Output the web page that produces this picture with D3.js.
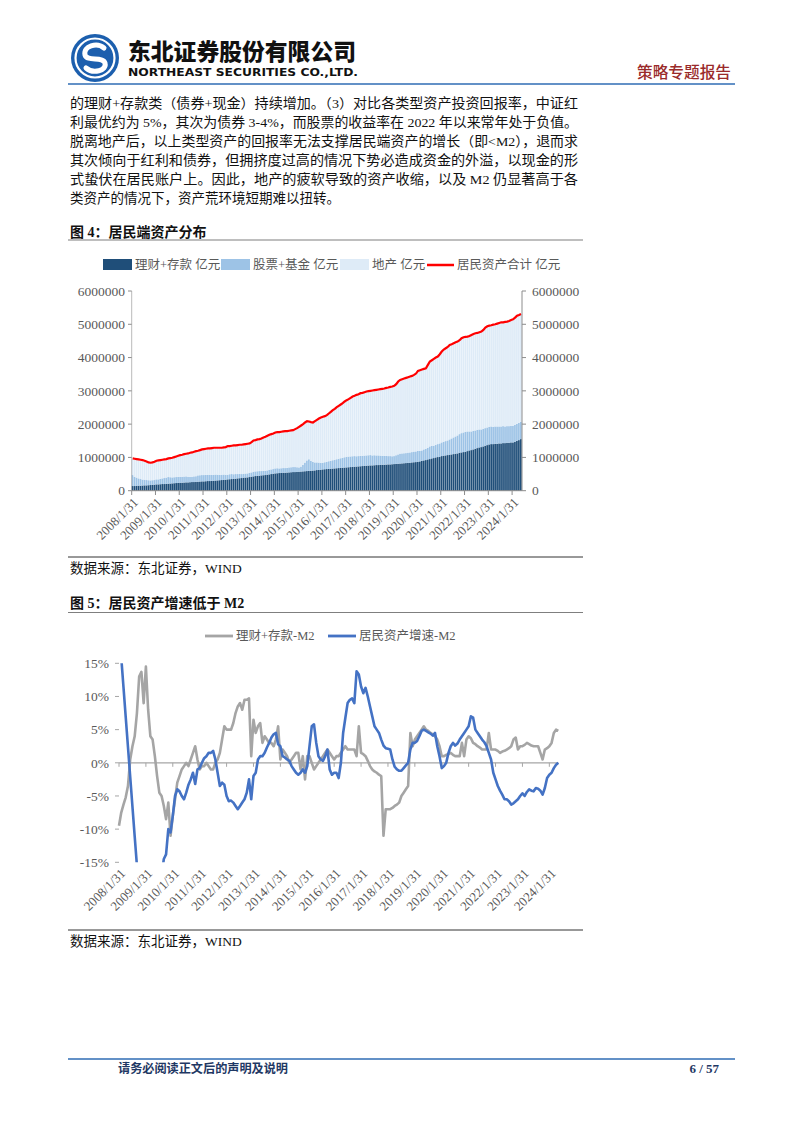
<!DOCTYPE html>
<html><head><meta charset="utf-8">
<script src="https://cdn.jsdelivr.net/npm/d3@7/dist/d3.min.js"></script>
<style>body{margin:0;background:#fff}svg{display:block}</style>
</head><body>
<svg id="page" width="802" height="1133"></svg>
<script>
// ---------------- DATA ----------------
// Figure 4: monthly, 2008/1 .. 2024/5, values in 万亿元 (x10000 = 亿元)
const startYear = 2008, nMonths = 197;
const yearTickLabels = ["2008/1/31","2009/1/31","2010/1/31","2011/1/31","2012/1/31","2013/1/31","2014/1/31","2015/1/31","2016/1/31","2017/1/31","2018/1/31","2019/1/31","2020/1/31","2021/1/31","2022/1/31","2023/1/31","2024/1/31"];
const assetTickValues = [0,1000000,2000000,3000000,4000000,5000000,6000000];
const seriesNames = ["理财+存款 亿元","股票+基金 亿元","地产 亿元","居民资产合计 亿元"];

const totalAssets = [
97,96,95,94,93,92,90,88,85,84,85,87,
90,91,92,93,94,95,97,98,99,101,103,105,
107,108,110,111,112,114,115,117,119,120,122,124,
125,126,127,127,128,129,129,129,129,129,130,131,
134,134,135,136,136,137,138,138,139,140,141,142,
146,151,152,154,155,157,160,162,165,168,170,172,
175,176,176,177,178,179,179,180,181,182,185,188,
192,196,200,205,209,208,206,205,209,213,217,220,
222,224,227,232,237,242,246,251,255,259,263,268,
272,275,279,283,285,288,290,293,294,296,298,299,
300,301,302,303,304,305,306,307,309,310,312,313,
315,320,328,333,335,337,339,341,343,345,348,352,
360,362,364,366,368,378,388,392,396,400,403,410,
418,424,428,432,438,440,443,446,448,452,458,461,
462,463,465,468,471,473,474,476,478,483,490,494,
496,497,499,500,502,504,506,506,507,508,510,513,
515,520,526,528,531];
const deposits = [
14,14,14.5,15,15,15.5,16,16,16.5,17,17.5,18,
19,19,19.5,20,20,20.5,21,21.5,22,22.5,23,23.5,
24,24,24.5,25,25,25.5,26,26,26.5,27,27.5,28,
28,28.5,29,29,29.5,30,30.5,31,31.5,32,32.5,33,
34,34.5,35,35.5,36,37,37.5,38,39,39.5,40,41,
42,43,44,44.5,45,46,46.5,47,48,49,50,51,
52,52.5,53,53.5,54,54,54.5,55,55.5,56,56,56.5,
57,57.5,58,58.5,59,59.5,60,60.5,61,62,62.5,63,
64,64.5,65,65.5,66,66.5,67,67.5,68,68.5,69,69.5,
70,70.5,71,71.5,72,72.5,73,73.5,74,74.5,75,75.5,
76,76,76.5,77,77,77.5,78,78,78.5,79,79,79.5,
80,80.5,81,81.5,82,82.5,83,83.5,84,85,85.5,86,
87,88,90,91,92,94,95,97,98,100,101,102,
104,105,106,107,108,109,110,111,112,114,115,116,
117,119,121,122,124,126,128,130,131,133,135,137,
139,140,140,141,141,142,142,143,143,144,144,145,
145,147,150,152,155];
const stocks = [
33,28,25,22,20,18,17,16,15,14,14,14,
15,15,16,17,18,19,20,19,18,18,18,18,
18,18,18,18,17,16,16,17,17,19,19,19,
19,19,19,19,18,18,18,17,16,16,16,15,
14,15,15,14,14,13,13,12,12,12,12,13,
13,14,14,14,14,13,13,13,13,14,14,14,
15,15,14,14,14,14,14,15,15,15,15,14,
13,15,20,26,32,35,30,26,24,23,22,21,
20,21,22,23,24,25,26,27,28,29,30,31,
32,32,32,32,32,31,31,31,31,31,31,31,
31,30,30,29,29,28,27,27,26,25,25,24,
24,26,28,30,30,30,30,31,31,31,32,32,
33,32,31,33,34,35,38,38,37,38,39,40,
41,42,43,44,46,48,50,52,54,56,58,59,
60,59,57,56,56,55,55,54,53,53,53,53,
53,53,52,52,52,51,51,51,50,50,50,50,
50,51,51,52,52];

// Figure 5: monthly growth gaps vs M2 (%), 2008/1 .. 2024/5
const growthTickValues = [-15,-10,-5,0,5,10,15];
const growthNames = ["理财+存款-M2","居民资产增速-M2"];
const depositMinusM2 = [
-9.5,-7.5,-6.3,-5.2,-3.5,0.5,2.5,4.0,7.5,13.0,13.7,9.0,
14.5,8.0,4.0,3.5,1.0,-2.0,-4.5,-5.0,-6.5,-8.5,-6.0,-11.0,
-8.0,-5.5,-3.0,-2.0,-1.0,-0.5,0.0,-0.5,0.5,1.5,2.5,0.5,
-1.0,-0.5,-0.5,0.0,-0.5,-1.0,-1.0,0.0,0.5,1.5,3.5,5.5,
5.0,5.0,5.0,6.0,7.5,8.5,9.0,8.0,9.5,9.5,9.7,1.0,
6.5,4.5,5.5,6.0,3.0,4.0,3.5,3.0,3.0,2.5,3.5,5.5,
0.5,2.0,1.5,1.0,0.0,0.5,1.0,1.5,1.5,-1.0,1.0,-2.5,
1.0,1.0,0.0,-1.0,-0.5,0.0,0.5,1.0,1.5,2.0,1.5,1.0,
0.5,1.0,1.0,1.5,2.0,2.5,2.0,2.0,2.0,2.0,1.0,5.5,
1.5,1.3,1.0,0.3,-0.5,-1.0,-1.3,-1.5,-1.8,-2.0,-11.0,-7.0,
-7.0,-7.0,-6.8,-6.5,-6.3,-6.0,-5.0,-4.5,-4.0,-3.5,4.5,2.5,
3.5,4.0,4.5,5.0,5.5,5.0,4.8,4.5,4.3,4.0,3.5,2.5,
1.0,1.0,1.2,1.3,1.5,1.2,1.0,1.0,1.0,3.0,1.0,3.5,
4.0,3.7,3.0,2.8,2.5,2.3,2.0,2.0,2.0,4.5,2.0,2.0,
2.0,1.8,1.5,1.7,1.8,2.0,2.2,2.5,3.5,3.8,2.0,2.5,
2.5,2.7,3.0,2.8,2.6,2.5,2.5,2.5,1.5,0.5,2.0,2.2,
2.5,3.0,4.5,5.0,4.8];
const householdMinusM2 = [
20.3,15.9,11.4,6.9,2.4,-2.1,-6.6,-11.1,-15.5,-20,-24,-27,
-29,-30,-30,-28,-26,-23,-20,-17,-14.5,-13.8,-10,-10.5,
-8,-5,-4,-4.3,-5,-5.5,-4.5,-3.3,-2.5,-1.5,-3.2,-1,
-0.8,0,0.7,1,1.5,1.5,1.8,0.5,-1.5,-3.5,-3,-3.3,
-5,-5.8,-5.7,-6,-6.5,-7,-6.5,-6,-5.5,-4.5,-2.5,-5.5,
-2,-1.5,0.5,1,1,1.5,2.3,3,3.8,4.3,4.5,2.8,
2.5,1,0.8,0.5,0.3,-0.5,-1,-1.5,-1.8,-1.5,-1,-1.5,
-0.5,2.5,5.5,5.8,3,1,0.5,0.3,1,2,-1,-1.8,
-1.5,-1.5,-2.3,0,4.5,6.8,9,9.5,9.7,9,13.8,13.3,
11.5,10.5,11.3,10,8.5,7,5.5,5,4.5,3.5,2.6,2.2,
2.1,2,0.5,-0.6,-1,-1.2,-1.2,-0.8,-0.4,0,2,3,
3,3.3,4,4.8,5,4.8,4.6,4.4,4.1,4.5,2.5,1,
-0.8,-0.5,0,1.5,2.5,3,2.6,2.9,3.5,4,4.5,5,
5.5,7,6.8,5,4.5,4,3.5,3.1,2.5,1.5,0.5,-1.5,
-2.5,-3.5,-4.2,-4.8,-5.5,-5.5,-5.8,-6.3,-6.1,-5.8,-5.5,-5,
-4.6,-5,-4.4,-4,-4.2,-4.3,-3.8,-3.9,-4.2,-4.8,-3.8,-2.3,
-1.8,-1.5,-0.8,-0.3,0];

const paragraph = [
"的理财+存款类（债券+现金）持续增加。（3）对比各类型资产投资回报率，中证红",
"利最优约为 5%，其次为债券 3-4%，而股票的收益率在 2022 年以来常年处于负值。",
"脱离地产后，以上类型资产的回报率无法支撑居民端资产的增长（即<M2），退而求",
"其次倾向于红利和债券，但拥挤度过高的情况下势必造成资金的外溢，以现金的形",
"式蛰伏在居民账户上。因此，地产的疲软导致的资产收缩，以及 M2 仍显著高于各",
"类资产的情况下，资产荒环境短期难以扭转。"];

// ---------------- DRAW ----------------
const SERIF = "'Liberation Serif','Times New Roman','Noto Sans CJK SC',serif";
const CJK = "'Noto Sans CJK SC','Liberation Serif',sans-serif";
const svg = d3.select("#page");

// Header
const logo = svg.append("g").attr("transform","translate(95,58)");
logo.append("circle").attr("r",24).attr("fill","#1c5fae");
logo.append("circle").attr("r",19.5).attr("fill","none").attr("stroke","#fff").attr("stroke-width",2.2);
logo.append("path").attr("d","M9,-10 C2,-16 -12,-12 -10,-3 C-8,4 8,-2 10,5 C12,13 -2,16 -9,10")
  .attr("fill","none").attr("stroke","#fff").attr("stroke-width",5).attr("stroke-linecap","round");
svg.append("text").attr("x",128).attr("y",60).text("东北证券股份有限公司")
  .attr("font-family",CJK).attr("font-weight",900).attr("font-size",23).attr("fill","#111")
  .attr("textLength",228).attr("lengthAdjust","spacingAndGlyphs");
svg.append("text").attr("x",128).attr("y",76).text("NORTHEAST SECURITIES CO.,LTD.")
  .attr("font-family","'DejaVu Sans',sans-serif").attr("font-weight","bold").attr("font-size",11).attr("fill","#111")
  .attr("textLength",230).attr("lengthAdjust","spacingAndGlyphs");
svg.append("text").attr("x",637).attr("y",78).text("策略专题报告")
  .attr("font-family",CJK).attr("font-size",15.5).attr("font-weight",500).attr("fill","#9a2a2a")
  .attr("textLength",94).attr("lengthAdjust","spacingAndGlyphs");
svg.append("line").attr("x1",68).attr("x2",735).attr("y1",84).attr("y2",84).attr("stroke","#2f6db5").attr("stroke-width",1.6);

// Paragraph
paragraph.forEach((t,i)=>{
  const tx = svg.append("text").attr("x",70).attr("y",108+i*19).text(t)
    .attr("font-family",SERIF).attr("font-size",13.5).attr("fill","#111");
  if(i<paragraph.length-1) tx.attr("textLength",508).attr("lengthAdjust","spacingAndGlyphs");
});

function figTitle(y, txt, lineY){
  svg.append("text").attr("x",70).attr("y",y).text(txt).attr("font-family",SERIF)
    .attr("font-weight","bold").attr("font-size",14).attr("fill","#111");
  svg.append("line").attr("x1",68).attr("x2",583).attr("y1",lineY).attr("y2",lineY).attr("stroke","#7f7f7f").attr("stroke-width",1.2);
}
function source(lineY){
  svg.append("line").attr("x1",68).attr("x2",583).attr("y1",lineY).attr("y2",lineY).attr("stroke","#333").attr("stroke-width",1);
  svg.append("text").attr("x",70).attr("y",lineY+16).text("数据来源：东北证券，WIND").attr("font-family",SERIF)
    .attr("font-size",13.5).attr("fill","#111");
}

// ---------- Figure 4 ----------
figTitle(237, "图 4：居民端资产分布", 240);
const rows = d3.range(nMonths).map(i=>({i, dep:deposits[i], stk:stocks[i], prop: totalAssets[i]-deposits[i]-stocks[i], tot: totalAssets[i]}));
const x1 = d3.scaleBand().domain(d3.range(nMonths)).range([131.7,522]).paddingInner(0).paddingOuter(0);
const y1 = d3.scaleLinear().domain([0,6000000]).range([490.7,291]);
const UNIT = 10000;
const colors1 = ["#1f4e79","#9dc3e6","#deebf7","#ff0000"];
const stack = d3.stack().keys(["dep","stk","prop"])(rows);
const g1 = svg.append("g");
stack.forEach((layer,k)=>{
  g1.append("g").selectAll("rect").data(layer).join("rect")
    .attr("x",d=>x1(d.data.i)).attr("width",x1.bandwidth()*0.86)
    .attr("y",d=>y1(d[1]*UNIT)).attr("height",d=>y1(d[0]*UNIT)-y1(d[1]*UNIT))
    .attr("fill",colors1[k]);
});
g1.append("path").datum(rows).attr("fill","none").attr("stroke",colors1[3]).attr("stroke-width",2.2)
  .attr("d",d3.line().x(d=>x1(d.i)+x1.bandwidth()/2).y(d=>y1(d.tot*UNIT)));
// axes
const axC = "#8c8c8c";
g1.append("line").attr("x1",131.7).attr("x2",522).attr("y1",490.7).attr("y2",490.7).attr("stroke",axC);
g1.append("line").attr("x1",522).attr("x2",522).attr("y1",291).attr("y2",490.7).attr("stroke",axC);
g1.append("line").attr("x1",131.7).attr("x2",131.7).attr("y1",291).attr("y2",490.7).attr("stroke",axC).attr("stroke-opacity",0.6);
assetTickValues.forEach(v=>{
  const y = y1(v);
  g1.append("line").attr("x1",128).attr("x2",131.7).attr("y1",y).attr("y2",y).attr("stroke",axC);
  g1.append("line").attr("x1",522).attr("x2",526).attr("y1",y).attr("y2",y).attr("stroke",axC);
  g1.append("text").attr("x",125).attr("y",y).attr("dy","0.35em").attr("text-anchor","end").text(String(v))
    .attr("font-family",SERIF).attr("font-size",13.5).attr("fill","#595959");
  g1.append("text").attr("x",532).attr("y",y).attr("dy","0.35em").text(String(v))
    .attr("font-family",SERIF).attr("font-size",13.5).attr("fill","#595959");
});
yearTickLabels.forEach((lab,k)=>{
  const x = x1(k*12);
  g1.append("line").attr("x1",x).attr("x2",x).attr("y1",490.7).attr("y2",495).attr("stroke",axC);
  g1.append("text").attr("text-anchor","end").attr("transform",`translate(${x+4},${500}) rotate(-45)`)
    .text(lab).attr("font-family",SERIF).attr("font-size",13).attr("fill","#595959").attr("dy","0.35em");
});
// legend
const lg1 = [[103,0],[221,1],[340,2]];
lg1.forEach(([lx,k])=>{
  svg.append("rect").attr("x",lx).attr("y",259).attr("width",29).attr("height",11).attr("fill",colors1[k]);
  svg.append("text").attr("x",lx+32).attr("y",265).attr("dy","0.35em").text(seriesNames[k])
    .attr("font-family",SERIF).attr("font-size",12.5).attr("fill","#595959");
});
svg.append("line").attr("x1",427).attr("x2",454).attr("y1",265).attr("y2",265).attr("stroke",colors1[3]).attr("stroke-width",2.5);
svg.append("text").attr("x",457).attr("y",265).attr("dy","0.35em").text(seriesNames[3])
  .attr("font-family",SERIF).attr("font-size",12.5).attr("fill","#595959");
source(557);

// ---------- Figure 5 ----------
figTitle(608, "图 5：居民资产增速低于 M2", 612.5);
const x2 = d3.scalePoint().domain(d3.range(nMonths)).range([119,558.3]);
const y2 = d3.scaleLinear().domain([-15,15]).range([862.3,663.3]);
const g2 = svg.append("g");
svg.append("clipPath").attr("id","clip2").append("rect").attr("x",100).attr("y",663.3).attr("width",480).attr("height",199);
g2.append("line").attr("x1",119).attr("x2",558.3).attr("y1",y2(0)).attr("y2",y2(0)).attr("stroke","#a6a6a6").attr("stroke-width",1.2);
yearTickLabels.forEach((lab,k)=>{
  const x = x2(k*12);
  g2.append("line").attr("x1",x).attr("x2",x).attr("y1",y2(0)).attr("y2",y2(0)+4).attr("stroke","#a6a6a6");
  g2.append("text").attr("text-anchor","end").attr("transform",`translate(${x+4},${871}) rotate(-45)`)
    .text(lab).attr("font-family",SERIF).attr("font-size",13).attr("fill","#595959").attr("dy","0.35em");
});
growthTickValues.forEach(v=>{
  const y = y2(v);
  g2.append("line").attr("x1",115).attr("x2",119).attr("y1",y).attr("y2",y).attr("stroke","#a6a6a6");
  g2.append("text").attr("x",109).attr("y",y).attr("dy","0.35em").attr("text-anchor","end").text(v+"%")
    .attr("font-family",SERIF).attr("font-size",13.5).attr("fill","#595959");
});
const colors2 = ["#a5a5a5","#4472c4"];
[depositMinusM2, householdMinusM2].forEach((arr,k)=>{
  g2.append("path").datum(arr).attr("clip-path","url(#clip2)").attr("fill","none")
    .attr("stroke",colors2[k]).attr("stroke-width",2.6).attr("stroke-linejoin","round")
    .attr("d",d3.line().x((d,i)=>x2(i)).y(d=>y2(d)));
});
// legend
[[205,0],[328,1]].forEach(([lx,k])=>{
  svg.append("line").attr("x1",lx).attr("x2",lx+28).attr("y1",636).attr("y2",636).attr("stroke",colors2[k]).attr("stroke-width",2.8);
  svg.append("text").attr("x",lx+31).attr("y",636).attr("dy","0.35em").text(growthNames[k])
    .attr("font-family",SERIF).attr("font-size",12.5).attr("fill","#595959");
});
source(930);

// Footer
svg.append("line").attr("x1",68).attr("x2",735).attr("y1",1059).attr("y2",1059).attr("stroke","#2f6db5").attr("stroke-width",1.4);
svg.append("text").attr("x",118).attr("y",1073).text("请务必阅读正文后的声明及说明").attr("font-family",CJK)
  .attr("font-weight","bold").attr("font-size",12.5).attr("fill","#1f3864").attr("textLength",170).attr("lengthAdjust","spacingAndGlyphs");
svg.append("text").attr("x",719).attr("y",1073).attr("text-anchor","end").text("6 / 57").attr("font-family",SERIF)
  .attr("font-weight","bold").attr("font-size",13).attr("fill","#1f3864");
</script>
</body></html>
